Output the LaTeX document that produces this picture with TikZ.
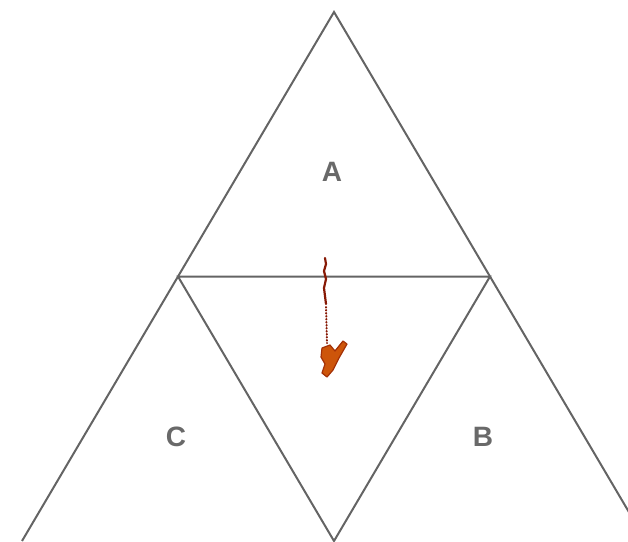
\documentclass[tikz,border=0pt]{standalone}
\usepackage{fontspec}
\setmainfont{Liberation Sans}
\usetikzlibrary{positioning,calc}
\definecolor{edgegray}{RGB}{100,100,100}
\definecolor{lblgray}{RGB}{105,105,105}
\definecolor{inkred}{RGB}{135,25,5}
\definecolor{inkorange}{RGB}{205,85,10}
\tikzset{
  tri/.style={draw=edgegray, line width=2pt, line join=miter},
  lbl/.style={font=\fontsize{28}{28}\selectfont\bfseries, text=lblgray, inner sep=0pt},
  ink/.style={draw=inkred, line width=2.2pt, line cap=round, line join=round},
  inkdot/.style={draw=inkred, line width=2pt, dash pattern=on 0.6pt off 2.4pt, line cap=round},
  blob/.style={draw=inkred!60!inkorange, fill=inkorange, line width=1.2pt, line join=round}
}

\begin{document}
\begin{tikzpicture}[x=1pt, y=-1pt]
\useasboundingbox (0,0) rectangle (628,541);
\clip (0,0) rectangle (628,541);
% corners and midpoints of the big triangle
\coordinate (top) at (334,12);
\coordinate (bl) at (22,541);
\coordinate (br) at (646,541);
\coordinate (ml) at ($(top)!0.5!(bl)$);
\coordinate (mr) at ($(top)!0.5!(br)$);
\coordinate (mb) at ($(bl)!0.5!(br)$);
\draw[tri] (bl) -- (top) -- (br);
\draw[tri] (ml) -- (mr) -- (mb) -- cycle;
\node[lbl] (la) at (332,172) {A};
\node[lbl] (lc) at (176,437) {C};
\node[lbl] (lb) at (483,437) {B};
% the scribble
\draw[ink] (325,258) -- (326,264) -- (324,271) -- (326,279) -- (324,288) -- (325,296) -- (326,304);
\draw[inkdot] (326,307) -- (327,343);
\draw[blob] (322,348) -- (330,345) -- (335,351) -- (343,341) -- (347,344) -- (339,358)
  -- (333,370) -- (327,377) -- (322,373) -- (325,364) -- (321,357) -- cycle;
\end{tikzpicture}
\end{document}
